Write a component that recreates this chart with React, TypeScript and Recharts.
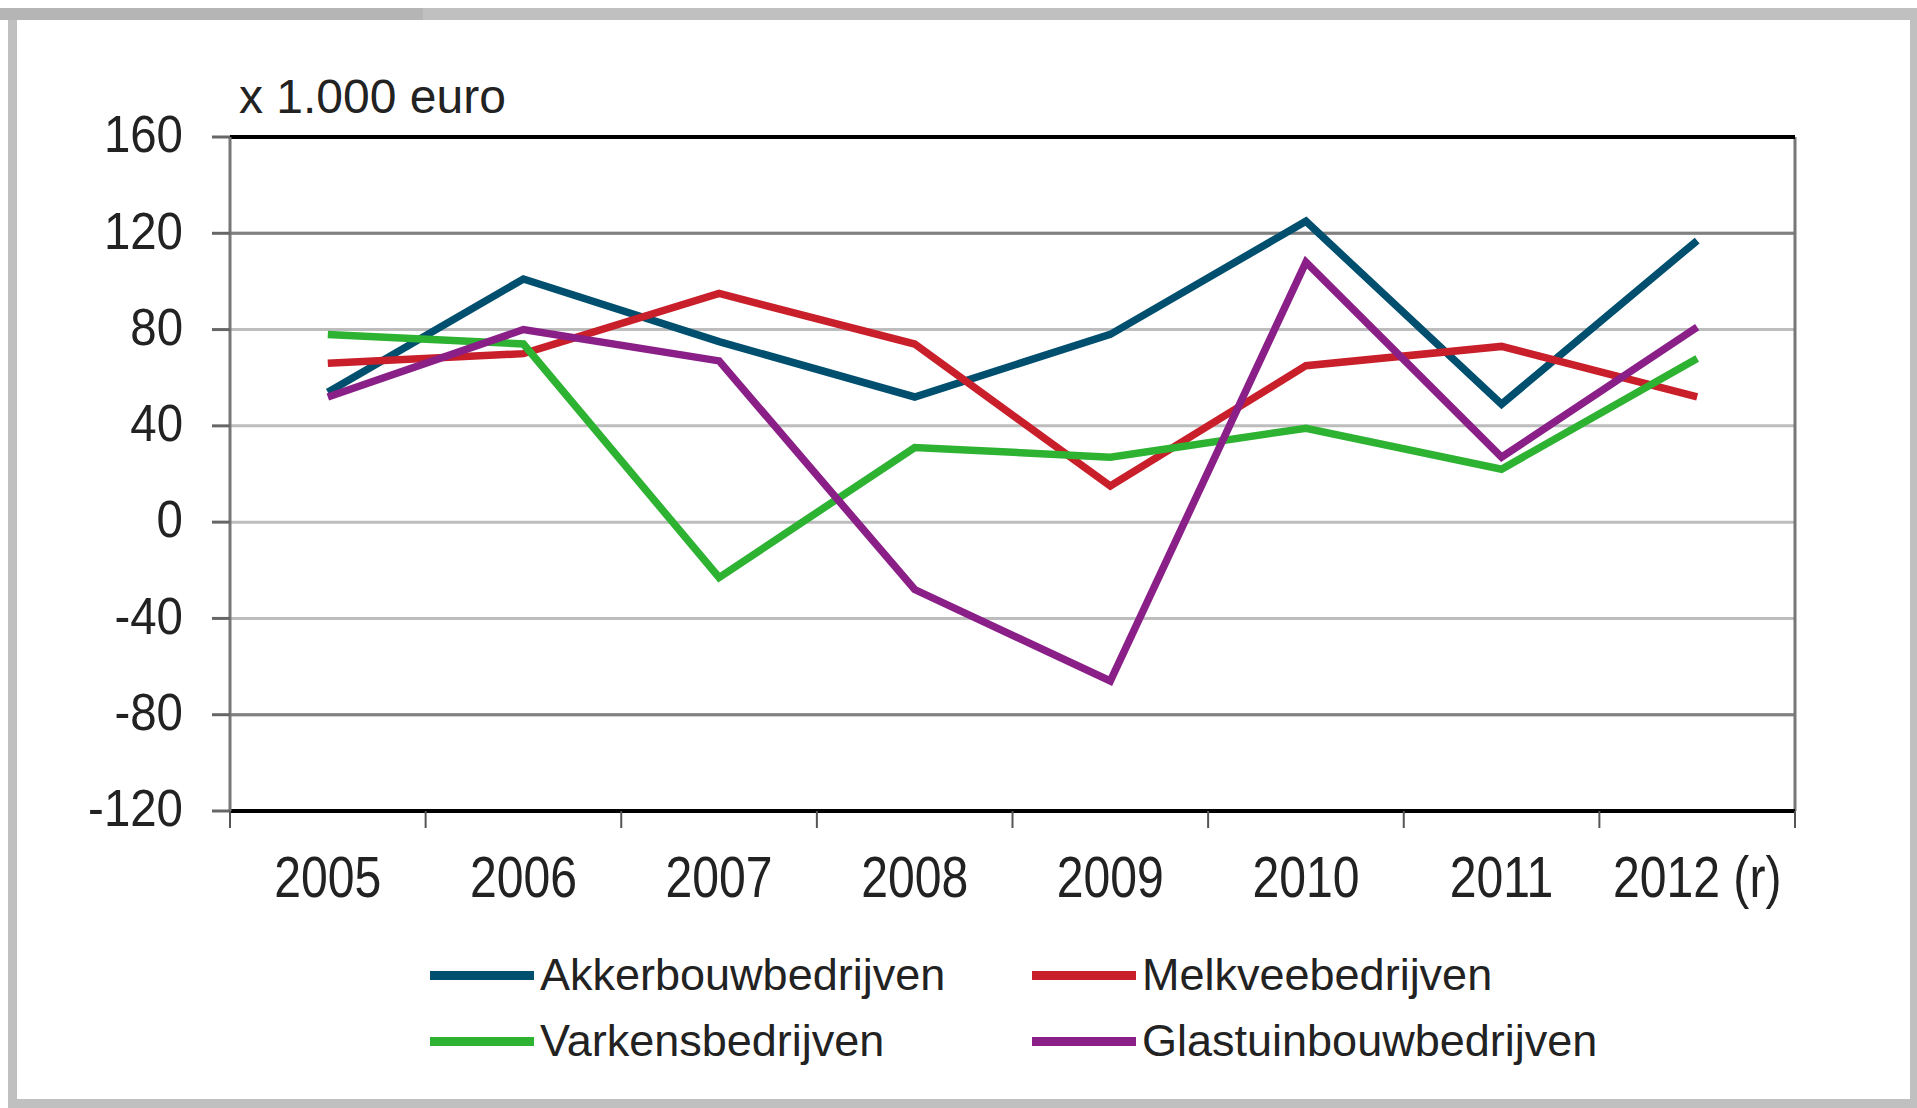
import { LineChart, Line, XAxis, YAxis, CartesianGrid, ReferenceLine } from 'recharts';

const years = ['2005', '2006', '2007', '2008', '2009', '2010', '2011', '2012 (r)'];
const akkerbouw = [54, 101, 75, 52, 78, 125, 49, 117];
const melkvee = [66, 70, 95, 74, 15, 65, 73, 52];
const varkens = [78, 74, -23, 31, 27, 39, 22, 68];
const glastuinbouw = [52, 80, 67, -28, -66, 108, 27, 81];
const yTicks = [-120, -80, -40, 0, 40, 80, 120, 160];

const series = [
  { key: 'akker', name: 'Akkerbouwbedrijven', color: '#004f6e' },
  { key: 'melk', name: 'Melkveebedrijven', color: '#c91f2a' },
  { key: 'varkens', name: 'Varkensbedrijven', color: '#2db232' },
  { key: 'glas', name: 'Glastuinbouwbedrijven', color: '#8a1f88' },
];

const data = years.map((label, i) => ({
  pos: i + 0.5,
  label,
  akker: akkerbouw[i],
  melk: melkvee[i],
  varkens: varkens[i],
  glas: glastuinbouw[i],
}));

// boundaries get a tick mark, centers get the year label
const xTicks = [...years.map((_, i) => i), years.length, ...years.map((_, i) => i + 0.5)].sort((a, b) => a - b);

const SANS = '"Liberation Sans", Arial, sans-serif';

function XTick({ x, y, payload }: any) {
  const v = payload.value as number;
  if (Number.isInteger(v)) {
    return <line x1={x} x2={x} y1={y} y2={y + 17} stroke="#555" strokeWidth={2} />;
  }
  // labels in the original are set in a condensed face
  return (
    <text
      transform={`translate(${x},${y + 86}) scale(0.83,1)`}
      textAnchor="middle"
      fontSize={58}
      fontFamily={SANS}
      fill="#222"
    >
      {years[Math.floor(v)]}
    </text>
  );
}

function YTick({ x, y, payload }: any) {
  return (
    <text
      transform={`translate(${x},${y}) scale(0.93,1)`}
      textAnchor="end"
      dy="0.3em"
      fontSize={51}
      fontFamily={SANS}
      fill="#222"
    >
      {payload.value}
    </text>
  );
}

function LegendItem({ name, color, left, top }: { name: string; color: string; left: number; top: number }) {
  return (
    <div style={{ position: 'absolute', left, top, display: 'flex', alignItems: 'center', height: 50 }}>
      <div style={{ width: 104, height: 9, background: color, marginRight: 6 }} />
      <span style={{ fontFamily: SANS, fontSize: 45, color: '#222', lineHeight: '50px' }}>{name}</span>
    </div>
  );
}

export default function App() {
  return (
    <div style={{ position: 'absolute', left: 0, top: 0, width: 1917, height: 1108, background: '#fff', overflow: 'hidden' }}>
      {/* frame */}
      <div style={{ position: 'absolute', left: 0, top: 8, width: 1910, height: 12, background: '#c0c0c0' }} />
      <div style={{ position: 'absolute', left: 0, top: 8, width: 423, height: 12, background: '#b5b5b5' }} />
      <div style={{ position: 'absolute', left: 8, top: 20, width: 9, height: 1088, background: '#c0c0c0' }} />
      <div style={{ position: 'absolute', left: 1910, top: 8, width: 7, height: 1100, background: '#c0c0c0' }} />
      <div style={{ position: 'absolute', left: 8, top: 1099, width: 1909, height: 9, background: '#c0c0c0' }} />

      <div style={{ position: 'absolute', left: 239, top: 117 - 44, fontFamily: SANS, fontSize: 48, color: '#222', lineHeight: '48px', whiteSpace: 'nowrap' }}>
        x 1.000 euro
      </div>

      <div style={{ position: 'absolute', left: 0, top: 0 }}>
        <LineChart width={1917} height={1108} data={data} margin={{ top: 137, right: 122, bottom: 197, left: 0 }}>
          <CartesianGrid vertical={false} stroke="#bdbdbd" strokeWidth={3} />
          <ReferenceLine y={120} stroke="#808080" strokeWidth={3} />
          <ReferenceLine y={-80} stroke="#808080" strokeWidth={3} />
          <ReferenceLine x={years.length} stroke="#777" strokeWidth={3} />
          <XAxis
            dataKey="pos"
            type="number"
            domain={[0, years.length]}
            ticks={xTicks}
            interval={0}
            height={100}
            tickSize={0}
            tickMargin={0}
            tickLine={false}
            axisLine={false}
            tick={<XTick />}
          />
          <YAxis
            type="number"
            domain={[-120, 160]}
            ticks={yTicks}
            interval={0}
            width={230}
            tickSize={18}
            tickMargin={29}
            axisLine={{ stroke: '#777', strokeWidth: 3 }}
            tickLine={{ stroke: '#666', strokeWidth: 3 }}
            tick={<YTick />}
          />
          <ReferenceLine y={160} stroke="#000" strokeWidth={4} />
          <ReferenceLine y={-120} stroke="#000" strokeWidth={4} />
          {series.map((s) => (
            <Line
              key={s.key}
              dataKey={s.key}
              name={s.name}
              stroke={s.color}
              strokeWidth={7.5}
              dot={false}
              activeDot={false}
              type="linear"
              isAnimationActive={false}
            />
          ))}
        </LineChart>
      </div>

      <LegendItem name={series[0].name} color={series[0].color} left={430} top={950} />
      <LegendItem name={series[1].name} color={series[1].color} left={1032} top={950} />
      <LegendItem name={series[2].name} color={series[2].color} left={430} top={1016} />
      <LegendItem name={series[3].name} color={series[3].color} left={1032} top={1016} />
    </div>
  );
}
